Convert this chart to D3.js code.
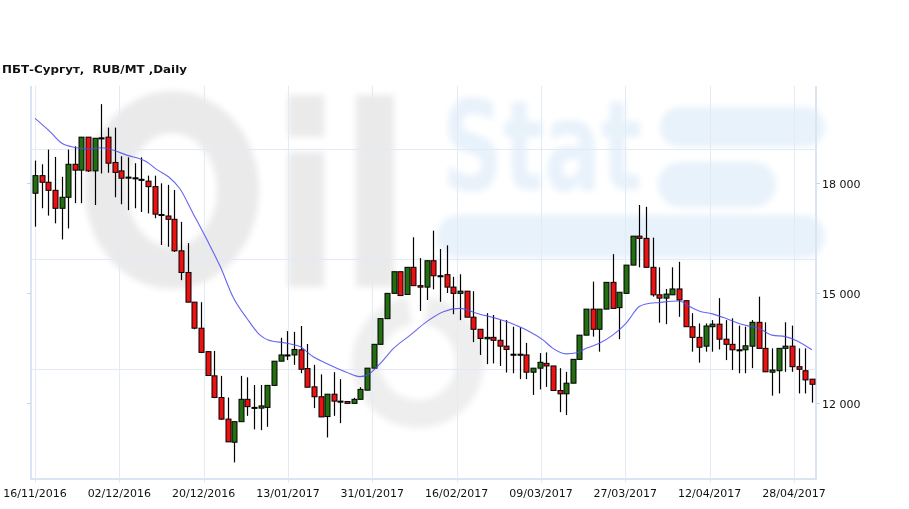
<!DOCTYPE html>
<html><head><meta charset="utf-8">
<script src="https://cdn.jsdelivr.net/npm/d3@7"></script>
<style>html,body{margin:0;padding:0;background:#fff;}svg{display:block;}</style>
</head><body>
<script>
const title = "ПБТ-Сургут,  RUB/MT ,Daily";
const xTickLabels = ["16/11/2016","02/12/2016","20/12/2016","13/01/2017","31/01/2017","16/02/2017","09/03/2017","27/03/2017","12/04/2017","28/04/2017"];
const xTickIndex = [0, 12.7, 25.4, 38.1, 50.8, 63.5, 76.2, 88.9, 101.6, 114.3];
const yTicks = [12000, 15000, 18000];

const openV = [17720,18200,18020,17800,17310,17610,18510,18350,19250,18330,
 19230,19250,18560,18330,18160,18140,18100,18050,17900,17140,
 17100,17010,16150,15560,14750,14040,13400,12740,12150,11560,
 10930,11490,12100,11880,11860,11880,12480,13140,13310,13310,
 13450,12940,12440,12170,11630,12240,12050,12040,11990,12100,
 12350,12950,13600,14300,14990,15580,14960,15700,15200,15160,
 15880,15470,15500,15160,14990,15050,14340,14010,13750,13790,
 13710,13550,13330,13330,13310,12840,12950,13080,13010,12340,
 12250,12540,13190,13850,14560,14010,14560,15290,14600,14990,
 15760,16550,16490,15700,14950,14860,14950,15110,14790,14080,
 13790,13550,14080,14150,13740,13600,13450,13450,13550,14200,
 13490,12840,12880,13490,13550,12990,12880,12650];
const highV = [18610,18510,18910,18710,18170,18910,19000,19250,19250,19220,
 20150,19510,19510,18730,18700,18540,18700,18200,18200,17990,
 17950,17810,16940,16360,14750,14750,13400,13420,12740,12150,
 11490,12740,12700,12490,12490,12480,13140,13780,13960,13940,
 14100,13610,13040,12780,12240,12840,12650,12040,12140,12430,
 12950,13600,14300,14990,15580,15580,15700,16520,15950,15880,
 16700,16200,16300,15440,15510,15050,15050,14010,14450,14400,
 14260,14260,14080,14060,13640,12950,13360,13380,13010,12950,
 12850,13190,13850,14560,15310,14560,15290,16060,15020,15760,
 16550,17400,17350,16510,15700,15110,15700,15850,14790,14450,
 14170,14170,14260,14860,14260,14310,14110,14080,14260,14900,
 14200,13490,13490,14200,14110,13490,13490,12650];
const lowV = [16810,17310,17110,16900,16460,16760,17450,17450,18300,17400,
 18260,18280,17610,17420,17260,17310,17210,17170,17040,16310,
 16260,16120,15350,14750,14010,13360,12750,12130,11540,10940,
 10380,11490,11650,11280,11260,11350,12480,13140,13170,13040,
 12810,12430,11860,11620,11060,11650,11450,11990,11990,12100,
 12350,12950,13600,14300,14990,14930,14960,15200,14510,14810,
 15100,14760,15000,14420,14260,14340,13660,13310,13060,13080,
 13010,12830,12810,12650,12650,12220,12370,12440,12340,11750,
 11670,12540,13190,13850,13810,13400,14560,14580,13740,14990,
 15760,15700,15700,14900,14190,14150,14950,14350,14080,13400,
 13100,13400,13400,13460,13170,12900,12810,12810,12950,13490,
 12850,12200,12260,12850,12850,12260,12260,12010];
const closeV = [18200,18020,17800,17310,17610,18510,18350,19250,18330,19220,
 19230,18540,18290,18130,18160,18140,18100,17900,17150,17140,
 17010,16150,15560,14750,14040,13380,12750,12150,11560,10940,
 11490,12100,11900,11880,11920,12480,13140,13310,13310,13460,
 12920,12430,12170,11620,12240,12050,12050,11990,12100,12370,
 12950,13600,14300,14990,15580,14930,15700,15200,15160,15880,
 15470,15470,15160,14990,15050,14340,14010,13760,13790,13710,
 13550,13460,13330,13310,12840,12950,13110,13010,12340,12250,
 12540,13190,13850,14560,14010,14560,15290,14580,15020,15760,
 16550,16490,15700,14950,14860,14970,15110,14810,14080,13790,
 13520,14100,14150,13740,13600,13450,13450,13560,14200,13490,
 12850,12900,13490,13550,12990,12920,12630,12510];

const maIndex = [0,2.26,4,6,8,9.8,11.3,13.8,16.8,18.3,20.1,21.8,23.8,25.9,27.9,29.9,31.9,33.9,35.1,37.9,39.9,41.9,43.9,46.9,48.9,50,52,54,56.5,59,61.5,64,66.5,71,74,76.5,78,80,81.6,83,85,87,89,91,92,94,97,98.6,100,102,104,106,107.5,109,111,113,114.7,117];
const maValue = [19760,19400,19090,18970,18930,18960,18920,18760,18580,18370,18170,17850,17170,16450,15720,14860,14310,13850,13720,13630,13540,13260,13080,12840,12720,12760,13080,13490,13850,14220,14490,14580,14450,14220,13990,13720,13490,13340,13370,13490,13630,13850,14170,14630,14700,14740,14780,14630,14510,14430,14310,14170,14100,14040,13850,13810,13700,13450];

const W = 909, H = 509;
const plotTop = 86, plotBottom = 479, plotLeft = 31, plotRight = 816;
const yMin = 9927, yMax = 20645;

const svg = d3.select("body").append("svg").attr("width", W).attr("height", H)
  .style("font-family", "'DejaVu Sans', Verdana, sans-serif");
svg.append("rect").attr("width", W).attr("height", H).attr("fill", "#fff");

const x = d3.scaleLinear().domain([0, openV.length - 1]).range([35, 811.9]);
const y = d3.scaleLinear().domain([yMin, yMax]).range([plotBottom, plotTop]);

// watermark
const defs = svg.append("defs");
defs.append("filter").attr("id", "blur").attr("x", "-20%").attr("y", "-20%").attr("width", "140%").attr("height", "140%")
  .append("feGaussianBlur").attr("stdDeviation", 3);
const wm = svg.append("g").attr("filter", "url(#blur)");
const gray = "#eaeaea", lblue = "#e8f2fb";
wm.append("ellipse").attr("cx", 172).attr("cy", 190).attr("rx", 66).attr("ry", 78)
  .attr("fill", "none").attr("stroke", gray).attr("stroke-width", 42);
wm.append("rect").attr("x", 288).attr("y", 95).attr("width", 36).attr("height", 42).attr("fill", gray);
wm.append("rect").attr("x", 288).attr("y", 152).attr("width", 36).attr("height", 135).attr("fill", gray);
wm.append("rect").attr("x", 356).attr("y", 95).attr("width", 38).attr("height", 192).attr("fill", gray);
wm.append("path").attr("d", d3.arc()({innerRadius: 38, outerRadius: 66, startAngle: Math.PI * 0.05, endAngle: Math.PI * 1.95}))
  .attr("transform", "translate(418,362)").attr("fill", "#eeeeee");
wm.append("text").attr("x", 442).attr("y", 190).attr("font-size", 124).attr("font-weight", "bold")
  .attr("textLength", 200).attr("lengthAdjust", "spacingAndGlyphs").attr("fill", lblue).text("Stat");
wm.append("rect").attr("x", 660).attr("y", 107).attr("width", 165).attr("height", 40).attr("rx", 20).attr("fill", lblue);
wm.append("rect").attr("x", 658).attr("y", 162).attr("width", 118).attr("height", 45).attr("rx", 22).attr("fill", lblue);
wm.append("rect").attr("x", 437).attr("y", 215).attr("width", 388).attr("height", 43).attr("rx", 21).attr("fill", lblue);

// grid
const gridColor = "#e2ebf5";
const gridVals = d3.range(yMin + 3000, yMax, 3000);
svg.append("g").selectAll("line").data(gridVals).join("line")
  .attr("x1", plotLeft).attr("x2", plotRight).attr("y1", d => Math.round(y(d)) + 0.5).attr("y2", d => Math.round(y(d)) + 0.5)
  .attr("stroke", gridColor).attr("stroke-width", 1);
svg.append("g").selectAll("line").data(xTickIndex).join("line")
  .attr("x1", d => Math.round(x(d)) + 0.5).attr("x2", d => Math.round(x(d)) + 0.5)
  .attr("y1", plotTop).attr("y2", plotBottom + 4)
  .attr("stroke", gridColor).attr("stroke-width", 1);

// borders
const borderColor = "#d9e5f2";
svg.append("line").attr("x1", plotLeft).attr("x2", plotLeft).attr("y1", plotTop).attr("y2", plotBottom + 1).attr("stroke", borderColor).attr("stroke-width", 2);
svg.append("line").attr("x1", plotRight).attr("x2", plotRight).attr("y1", plotTop).attr("y2", plotBottom + 1).attr("stroke", borderColor).attr("stroke-width", 2);
svg.append("line").attr("x1", plotLeft - 1).attr("x2", plotRight + 1).attr("y1", plotBottom).attr("y2", plotBottom).attr("stroke", borderColor).attr("stroke-width", 2);

// y ticks
const yt = svg.append("g");
yTicks.forEach(v => {
  const yy = Math.round(y(v)) + 0.5;
  yt.append("line").attr("x1", plotRight).attr("x2", plotRight + 4).attr("y1", yy).attr("y2", yy).attr("stroke", "#c8d6e8");
  yt.append("line").attr("x1", plotLeft - 4).attr("x2", plotLeft).attr("y1", yy).attr("y2", yy).attr("stroke", "#c8d6e8");
  yt.append("text").attr("x", plotRight + 6).attr("y", yy + 4).attr("font-size", 11).attr("fill", "#111")
    .text(d3.format(",")(v).replace(/,/g, " "));
});

// x labels
svg.append("g").selectAll("text").data(xTickIndex).join("text")
  .attr("x", d => x(d)).attr("y", 497).attr("text-anchor", "middle").attr("font-size", 11).attr("fill", "#111")
  .text((d, i) => xTickLabels[i]);

// title
svg.append("text").attr("x", 2).attr("y", 73).attr("font-size", 11).attr("font-weight", "bold").attr("fill", "#111")
  .style("white-space", "pre").attr("textLength", 185).attr("lengthAdjust", "spacingAndGlyphs").text(title);

// candles
const idx = d3.range(openV.length);
const cg = svg.append("g");
cg.selectAll("line").data(idx).join("line")
  .attr("x1", i => Math.round(x(i)) + 0.5).attr("x2", i => Math.round(x(i)) + 0.5)
  .attr("y1", i => y(highV[i])).attr("y2", i => y(lowV[i]))
  .attr("stroke", "#000").attr("stroke-width", 1.2);
cg.selectAll("rect").data(idx).join("rect")
  .attr("x", i => Math.round(x(i)) - 2)
  .attr("width", 5)
  .attr("y", i => y(Math.max(openV[i], closeV[i])))
  .attr("height", i => Math.max(1, Math.abs(y(openV[i]) - y(closeV[i]))))
  .attr("fill", i => closeV[i] > openV[i] ? "#236e10" : (closeV[i] < openV[i] ? "#ee1111" : "#000"))
  .attr("stroke", "#000").attr("stroke-width", 1);

// moving average
svg.append("path").datum(maIndex.map((d, i) => [d, maValue[i]]))
  .attr("d", d3.line().x(d => x(d[0])).y(d => y(d[1])).curve(d3.curveMonotoneX))
  .attr("fill", "none").attr("stroke", "#4a4af0").attr("stroke-opacity", 0.85).attr("stroke-width", 1.1);
</script>
</body></html>
